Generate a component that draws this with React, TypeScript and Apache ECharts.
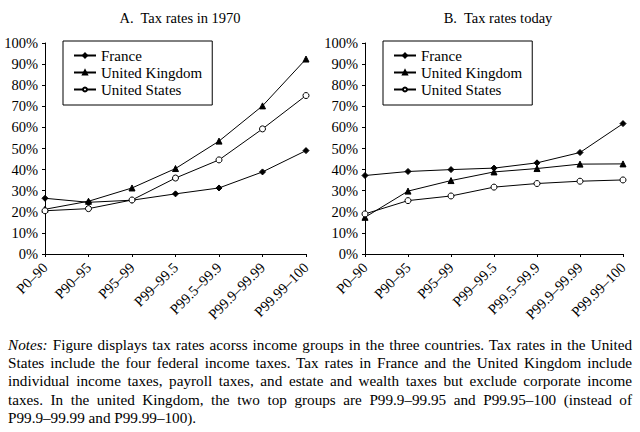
import * as echarts from 'echarts';
import { useEffect, useRef } from 'react';

const groups = ['P0–90', 'P90–95', 'P95–99', 'P99–99.5', 'P99.5–99.9', 'P99.9–99.99', 'P99.99–100'];
const countries = ['France', 'United Kingdom', 'United States'];

// panel A, 1970
const france1970 = [26.4, 24.5, 25.5, 28.5, 31.3, 38.9, 49.0];
const uk1970 = [21.2, 25.0, 31.3, 40.5, 53.5, 70.2, 92.4];
const us1970 = [20.5, 21.5, 25.6, 36.0, 44.6, 59.3, 75.1];

// panel B, today
const franceToday = [37.2, 39.1, 40.0, 40.7, 43.2, 48.1, 61.8];
const ukToday = [17.4, 29.8, 34.8, 38.9, 40.5, 42.6, 42.7];
const usToday = [19.0, 25.3, 27.5, 31.7, 33.4, 34.5, 35.1];

const titles = ['A.  Tax rates in 1970', 'B.  Tax rates today'];

const noteLines = [
  'Figure displays tax rates acorss income groups in the three countries. Tax rates in the United',
  'States include the four federal income taxes. Tax rates in France and the United Kingdom include',
  'individual income taxes, payroll taxes, and estate and wealth taxes but exclude corporate income',
  'taxes. In the united Kingdom, the two top groups are P99.9–99.95 and P99.95–100 (instead of',
  'P99.9–99.99 and P99.99–100).',
];

const FONT = 'Liberation Serif';

const markerStyle = [
  { symbol: 'diamond', symbolSize: 6, color: '#000' },
  { symbol: 'triangle', symbolSize: 6, color: '#000' },
  { symbol: 'circle', symbolSize: 6, color: '#fff' },
];

const App = () => {
  const chartRef = useRef<HTMLDivElement>(null);

  useEffect(() => {
    if (chartRef.current === null) return;
    const chart = echarts.init(chartRef.current, null, { renderer: 'svg' });

    const panels = [
      [france1970, uk1970, us1970],
      [franceToday, ukToday, usToday],
    ];
    const grids = [
      { left: 45, top: 43, width: 261, height: 211 },
      { left: 365, top: 43, width: 258, height: 211 },
    ];

    const series: any[] = [];
    panels.forEach((panel, p) => {
      panel.forEach((values, i) => {
        series.push({
          name: countries[i],
          type: 'line',
          xAxisIndex: p,
          yAxisIndex: p,
          data: values,
          symbol: markerStyle[i].symbol,
          symbolSize: markerStyle[i].symbolSize,
          showSymbol: true,
          lineStyle: { color: '#000', width: 1 },
          itemStyle: { color: markerStyle[i].color, borderColor: '#000', borderWidth: 1 },
          emphasis: { disabled: true },
        });
      });
    });

    const options = {
      animation: false,
      backgroundColor: '#fff',
      textStyle: { fontFamily: FONT, color: '#000' },
      title: titles.map((t, i) => ({
        text: t,
        left: i === 0 ? 175 : 493,
        top: 5,
        textAlign: 'center',
        textStyle: { fontFamily: FONT, fontSize: 14.5, fontWeight: 'normal', color: '#000' },
      })),
      legend: [0, 1].map((p) => ({
        data: countries,
        orient: 'vertical',
        left: p === 0 ? 63 : 383,
        top: 41,
        padding: [7, 10, 8, 10],
        itemWidth: 22,
        itemHeight: 5,
        itemGap: 2,
        borderColor: '#000',
        borderWidth: 1,
        selectedMode: false,
        textStyle: { fontFamily: FONT, fontSize: 15, lineHeight: 15, color: '#000' },
      })),
      grid: grids,
      xAxis: [0, 1].map((p) => ({
        type: 'category',
        gridIndex: p,
        data: groups,
        boundaryGap: false,
        axisLine: { lineStyle: { color: '#000', width: 1 } },
        axisTick: { alignWithLabel: true, length: 3, lineStyle: { color: '#000' } },
        axisLabel: {
          rotate: 45,
          fontFamily: FONT,
          fontSize: 14.5,
          color: '#000',
          margin: 11,
          interval: 0,
        },
        splitLine: { show: false },
      })),
      yAxis: [0, 1].map((p) => ({
        type: 'value',
        gridIndex: p,
        min: 0,
        max: 100,
        interval: 10,
        axisLine: { show: true, lineStyle: { color: '#000', width: 1 } },
        axisTick: { show: true, length: 3, lineStyle: { color: '#000' } },
        axisLabel: {
          formatter: '{value}%',
          fontFamily: FONT,
          fontSize: 14.5,
          color: '#000',
          margin: 7,
        },
        splitLine: { show: false },
      })),
      series,
    };

    chart.setOption(options);

    return () => {
      chart.dispose();
    };
  }, []);

  return (
    <div style={{ position: 'absolute', left: 0, top: 0, width: 640, height: 432, background: '#fff' }}>
      <div ref={chartRef} style={{ position: 'absolute', left: 0, top: 0, width: 640, height: 334 }}></div>
      <div
        style={{
          position: 'absolute',
          left: 8,
          top: 336,
          width: 624,
          fontFamily: FONT,
          fontSize: 15.2,
          lineHeight: '18.2px',
          color: '#000',
        }}
      >
        {noteLines.map((line, i) => (
          <div
            key={i}
            style={{
              whiteSpace: 'nowrap',
              textAlign: 'justify',
              textAlignLast: i < noteLines.length - 1 ? 'justify' : 'left',
            }}
          >
            {i === 0 && <i>Notes: </i>}
            {line}
          </div>
        ))}
      </div>
    </div>
  );
};

export default App;
